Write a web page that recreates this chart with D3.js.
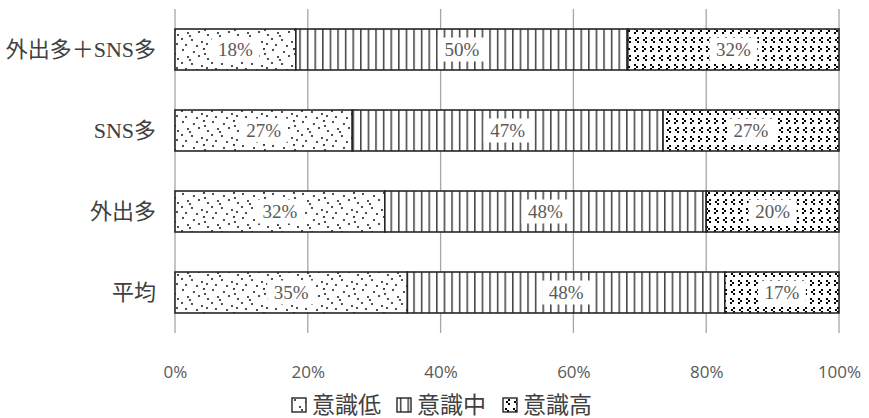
<!DOCTYPE html>
<html>
<head>
<meta charset="utf-8">
<script src="https://cdn.jsdelivr.net/npm/d3@7/dist/d3.min.js"></script>
<style>
  html, body { margin: 0; padding: 0; background: #fff; }
  svg { display: block; }
</style>
</head>
<body>
<svg id="chart" width="869" height="418"></svg>
<script>
// Categories (top to bottom) and share of each awareness level, in percent
const categories = ["外出多＋SNS多", "SNS多", "外出多", "平均"];
const lowValues  = [18.2, 26.7, 31.6, 35.0];   // 意識低
const midValues  = [50.0, 46.8, 48.4, 47.8];   // 意識中
const highValues = [31.8, 26.5, 20.0, 17.2];   // 意識高
const seriesNames = ["意識低", "意識中", "意識高"];
const xTicks = [0, 20, 40, 60, 80, 100];

const svg = d3.select("#chart");
const serif = "'Liberation Serif', 'DejaVu Serif', 'Noto Sans CJK JP', serif";
const sans = "'Open Sans', 'Liberation Sans', sans-serif";

// ---- fill patterns ----
const defs = svg.append("defs");

// sparse stipple
const pLow = defs.append("pattern").attr("id", "pat-low")
  .attr("patternUnits", "userSpaceOnUse").attr("width", 30).attr("height", 24);
pLow.append("rect").attr("width", 30).attr("height", 24).attr("fill", "#fff");
const dots = [[3,2],[14,4],[24,1],[8,9],[19,8],[28,11],[2,15],[12,16],[22,18],[6,21],[17,22],[27,20],[10,12],[25,6]];
pLow.selectAll("circle").data(dots).join("circle")
  .attr("cx", d => d[0]).attr("cy", d => d[1]).attr("r", 1.05).attr("fill", "#222");

// vertical lines
const pMid = defs.append("pattern").attr("id", "pat-mid")
  .attr("patternUnits", "userSpaceOnUse").attr("width", 7.6).attr("height", 10);
pMid.append("rect").attr("width", 7.6).attr("height", 10).attr("fill", "#fff");
pMid.append("rect").attr("x", 3).attr("y", 0).attr("width", 1.3).attr("height", 10).attr("fill", "#222");

// rows of "<" and ">" chevrons made of small squares
const pHigh = defs.append("pattern").attr("id", "pat-high")
  .attr("patternUnits", "userSpaceOnUse").attr("width", 8).attr("height", 18)
  .attr("shape-rendering", "crispEdges");
pHigh.append("rect").attr("width", 8).attr("height", 18).attr("fill", "#fff");
const chev = [[5,1],[3,3],[5,5],[2,10],[4,12],[2,14]];
pHigh.selectAll("rect.c").data(chev).join("rect").attr("class", "c")
  .attr("x", d => d[0]).attr("y", d => d[1]).attr("width", 2).attr("height", 2).attr("fill", "#000");

const fills = ["url(#pat-low)", "url(#pat-mid)", "url(#pat-high)"];

// ---- scales ----
const x = d3.scaleLinear().domain([0, 100]).range([175, 839]);
const y = d3.scaleBand().domain(categories).range([9, 333])
  .paddingInner(0.494).paddingOuter(0.247);

// gridlines
svg.append("g").selectAll("line").data(xTicks).join("line")
  .attr("x1", d => x(d)).attr("x2", d => x(d))
  .attr("y1", 9).attr("y2", 333)
  .attr("stroke", "#a6a6a6").attr("stroke-width", 1.3);

// x axis tick labels
const xAxis = d3.axisBottom(x).tickValues(xTicks).tickFormat(d => d + "%").tickSize(0).tickPadding(0);
const gx = svg.append("g").attr("transform", "translate(0,366)").call(xAxis);
gx.select(".domain").remove();
gx.selectAll("text").attr("font-family", sans).attr("font-size", 17).attr("fill", "#595959").attr("dy", "0.71em");

// category labels
const yAxis = d3.axisLeft(y).tickSize(0).tickPadding(0);
const gy = svg.append("g").attr("transform", "translate(156,0)").call(yAxis);
gy.select(".domain").remove();
gy.selectAll("text").attr("font-family", serif).attr("font-size", 22).attr("fill", "#404040");

// stacked data
const rows = categories.map((c, i) => ({ cat: c, vals: [lowValues[i], midValues[i], highValues[i]] }));
const segs = [];
rows.forEach(r => {
  let acc = 0;
  r.vals.forEach((v, k) => {
    segs.push({ cat: r.cat, k, v, x0: acc, x1: acc + v });
    acc += v;
  });
});

// bars
svg.append("g").selectAll("rect").data(segs).join("rect")
  .attr("x", d => x(d.x0)).attr("width", d => x(d.x1) - x(d.x0))
  .attr("y", d => y(d.cat)).attr("height", y.bandwidth())
  .attr("fill", d => fills[d.k])
  .attr("stroke", "#262626").attr("stroke-width", 1.6);

// value labels with white backing
const lab = svg.append("g").selectAll("g").data(segs).join("g")
  .attr("transform", d => `translate(${(x(d.x0) + x(d.x1)) / 2},${y(d.cat) + y.bandwidth() / 2})`);
lab.append("rect").attr("x", -24).attr("y", -12).attr("width", 48).attr("height", 24).attr("fill", "#fff");
lab.append("text").attr("text-anchor", "middle").attr("dy", "0.35em")
  .attr("font-family", serif).attr("font-size", 19).attr("fill", "#595959")
  .text(d => Math.round(d.v) + "%");

// legend
const legendX = [292, 397, 503];
const leg = svg.append("g").selectAll("g").data(seriesNames).join("g")
  .attr("transform", (d, i) => `translate(${legendX[i]},398)`);
leg.append("rect").attr("width", 14).attr("height", 14)
  .attr("fill", (d, i) => fills[i]).attr("stroke", "#262626").attr("stroke-width", 1.4);
leg.append("text").attr("x", 20).attr("y", 7).attr("dy", "0.36em")
  .attr("font-family", serif).attr("font-size", 23).attr("fill", "#404040")
  .text(d => d);
</script>
</body>
</html>
